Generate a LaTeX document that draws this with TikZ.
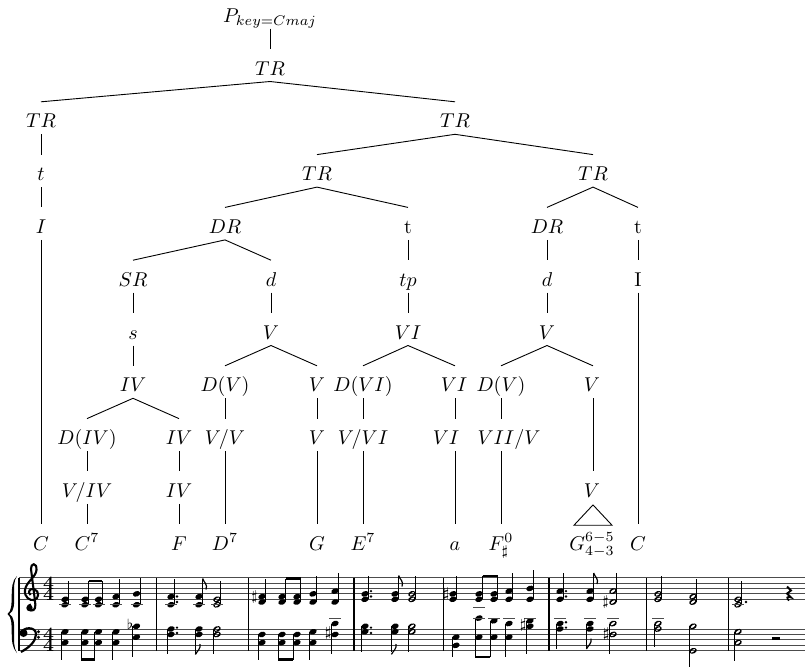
\documentclass[tikz,border=0pt]{standalone}
\usepackage{amssymb}
\begin{document}
\begin{tikzpicture}[x=0.5pt,y=-0.5pt,
  lab/.style={anchor=base,inner sep=0pt},
  edge/.style={line width=0.45pt},
  staffline/.style={line width=0.45pt,black!70},
  stem/.style={line width=0.55pt},
  bar/.style={line width=0.55pt},
  beam/.style={line width=1.3pt}]
\useasboundingbox (0,0) rectangle (805,666);
% ---------------- tree ----------------
\newcommand\ed[2]{\draw[edge] ([yshift=-3.25pt]#1.base) -- ([yshift=13pt]#2.base);}
\newcommand\edd[4]{\draw[edge] ([xshift=#2,yshift=-3.25pt]#1.base) -- ([xshift=#4,yshift=13pt]#3.base);}
\def\La{22.2}\def\Lb{75}\def\Lc{127.8}\def\Ld{180.6}\def\Le{233.4}\def\Lf{286.2}
\def\Lg{339}\def\Lh{391.8}\def\Li{444.6}\def\Lj{497.4}\def\Lk{550.2}
\node[lab] (P) at (270,\La) {$P_{key=Cmaj}$};
\node[lab] (T1) at (270,\Lb) {$TR$};
\node[lab] (T2a) at (41,\Lc) {$TR$};
\node[lab] (T2b) at (455,\Lc) {$TR$};
\node[lab] (t3a) at (41,\Ld) {$t$};
\node[lab] (T3b) at (317,\Ld) {$TR$};
\node[lab] (T3c) at (593,\Ld) {$TR$};
\node[lab] (I4a) at (41,\Le) {$I$};
\node[lab] (D4b) at (225,\Le) {$DR$};
\node[lab] (t4c) at (408,\Le) {t};
\node[lab] (D4d) at (547,\Le) {$DR$};
\node[lab] (t4e) at (638,\Le) {t};
\node[lab] (S5a) at (133,\Lf) {$SR$};
\node[lab] (d5b) at (271,\Lf) {$d$};
\node[lab] (tp5c) at (408,\Lf) {$tp$};
\node[lab] (d5d) at (547,\Lf) {$d$};
\node[lab] (I5e) at (638,\Lf) {I};
\node[lab] (s6a) at (133,\Lg) {$s$};
\node[lab] (V6b) at (271,\Lg) {$V$};
\node[lab] (VI6c) at (408,\Lg) {$VI$};
\node[lab] (V6d) at (547,\Lg) {$V$};
\node[lab] (IV7a) at (133,\Lh) {$IV$};
\node[lab] (DV7b) at (225,\Lh) {$D(V)$};
\node[lab] (V7c) at (317,\Lh) {$V$};
\node[lab] (DVI7d) at (363,\Lh) {$D(VI)$};
\node[lab] (VI7e) at (454,\Lh) {$VI$};
\node[lab] (DV7f) at (501,\Lh) {$D(V)$};
\node[lab] (V7g) at (592,\Lh) {$V$};
\node[lab] (DIV8a) at (87,\Li) {$D(IV)$};
\node[lab] (IV8b) at (179,\Li) {$IV$};
\node[lab] (VV8c) at (225,\Li) {$V/V$};
\node[lab] (V8d) at (317,\Li) {$V$};
\node[lab] (VVI8e) at (363,\Li) {$V/VI$};
\node[lab] (VI8f) at (446,\Li) {$VI$};
\node[lab] (VIIV8g) at (509,\Li) {$VII/V$};
\node[lab] (VIV9a) at (87,\Lj) {$V/IV$};
\node[lab] (IV9b) at (179,\Lj) {$IV$};
\node[lab] (V9c) at (592,\Lj) {$V$};
\node[lab] (Ca) at (41,\Lk) {$C$};
\node[lab] (Cb) at (87,\Lk) {$C^7$};
\node[lab] (Fc) at (179,\Lk) {$F$};
\node[lab] (Dd) at (225,\Lk) {$D^7$};
\node[lab] (Ge) at (317,\Lk) {$G$};
\node[lab] (Ef) at (363,\Lk) {$E^7$};
\node[lab] (ag) at (455,\Lk) {$a$};
\node[lab] (Fh) at (501,\Lk) {$F^0_\sharp$};
\node[lab] (Gi) at (592,\Lk) {$G^{6-5}_{4-3}$};
\node[lab] (Cj) at (638,\Lk) {$C$};
\ed{P}{T1}
\ed{T1}{T2a}\ed{T1}{T2b}
\ed{T2a}{t3a}\ed{t3a}{I4a}\ed{I4a}{Ca}
\ed{T2b}{T3b}\ed{T2b}{T3c}
\ed{T3b}{D4b}\ed{T3b}{t4c}
\ed{D4b}{S5a}\ed{D4b}{d5b}
\ed{S5a}{s6a}\ed{s6a}{IV7a}
\ed{IV7a}{DIV8a}\ed{IV7a}{IV8b}
\ed{DIV8a}{VIV9a}\ed{VIV9a}{Cb}
\ed{IV8b}{IV9b}\ed{IV9b}{Fc}
\ed{d5b}{V6b}\ed{V6b}{DV7b}\ed{V6b}{V7c}
\ed{DV7b}{VV8c}\ed{VV8c}{Dd}
\ed{V7c}{V8d}\ed{V8d}{Ge}
\ed{t4c}{tp5c}\ed{tp5c}{VI6c}
\ed{VI6c}{DVI7d}\edd{VI6c}{0pt}{VI7e}{0.5pt}
\ed{DVI7d}{VVI8e}\edd{VVI8e}{0pt}{Ef}{0pt}
\edd{VI7e}{0.5pt}{VI8f}{4.5pt}\edd{VI8f}{4.5pt}{ag}{0pt}
\ed{T3c}{D4d}\ed{T3c}{t4e}
\ed{D4d}{d5d}\ed{d5d}{V6d}
\ed{V6d}{DV7f}\edd{V6d}{0pt}{V7g}{0.5pt}
\edd{DV7f}{0pt}{VIIV8g}{-4pt}\edd{VIIV8g}{-4pt}{Fh}{0pt}
\edd{V7g}{0.5pt}{V9c}{0.5pt}
\draw[edge] ([xshift=0.5pt,yshift=-3.75pt]V9c.base) -- ([xshift=10pt,yshift=12.5pt]Gi.base) -- ([xshift=-9pt,yshift=12.5pt]Gi.base) -- cycle;
\ed{t4e}{I5e}\ed{I5e}{Cj}
% ---------------- score ----------------
\def\TT{577.5}\def\BT{629}
\newcommand\nf[2]{\fill (#1,#2) circle[x radius=1.9pt,y radius=1.35pt,rotate=20];}
\newcommand\no[2]{\fill[even odd rule] (#1,#2) circle[x radius=1.95pt,y radius=1.4pt,rotate=20] (#1,#2) circle[x radius=1.35pt,y radius=0.6pt,rotate=35];}
\newcommand\chord[6]{%
  \foreach \p in {#3}{\pgfmathsetmacro\yy{#2+\p*2.725}#4{#1}{\yy}}%
  \pgfmathsetmacro\ya{#2+min(#3)*2.725}\pgfmathsetmacro\yb{#2+max(#3)*2.725}%
  \ifnum#5=1 \draw[stem] (#1+3.6,\yb) -- (#1+3.6,\ya-#6);\fi
  \ifnum#5=-1 \draw[stem] (#1-3.6,\ya) -- (#1-3.6,\yb+#6);\fi}
\newcommand\ledger[2]{\draw[staffline] (#1-6,#2) -- (#1+6,#2);}
\newcommand\ndot[2]{\fill (#1,#2) circle (0.65pt);}
\newcommand\acc[3]{\node[inner sep=0pt] at (#1,#2) {\scriptsize$#3$};}
% staves
\foreach \i in {0,...,4}{\draw[staffline] (19,\TT+\i*5.45) -- (805,\TT+\i*5.45);
  \draw[staffline] (19,\BT+\i*5.45) -- (805,\BT+\i*5.45);}
\draw[bar] (19,\TT) -- (19,\BT+21.8);
\foreach \x in {156.5,248.3,354,443.3,549,646.7,728.3}{\draw[bar] (\x,\TT) -- (\x,\BT+21.8);}
% brace
\fill (17,576) .. controls (7,585) and (16,608) .. (7.5,614) .. controls (16,620) and (7,643) .. (17,653)
  .. controls (10,643) and (19,620) .. (9.5,614) .. controls (19,608) and (10,585) .. (17,576) -- cycle;
% clefs
\draw[line width=1.05pt] (31,604.5) .. controls (27,605) and (27,610) .. (31,610.5) .. controls (35,611) and (36,607) .. (35,601) -- (31,569) .. controls (30.5,563) and (37,562) .. (36.5,570) .. controls (36,577) and (26,582) .. (25,590) .. controls (24,597) and (30,601) .. (34,600) .. controls (39,599) and (40,591) .. (34,589) .. controls (30,588) and (27,592) .. (30.5,595);
\fill (29.5,608) circle (1.6pt);
\fill (23.5,633) circle (2pt);
\draw[line width=1.1pt] (22,633) .. controls (22,627) and (36,626) .. (36,634) .. controls (36,641) and (30,647) .. (21,652);
\fill (38.5,631.7) circle (0.8pt); \fill (38.5,637.2) circle (0.8pt);
% time signatures
\foreach \y in {\TT,\BT}{
  \node[inner sep=0pt] at (48.5,\y+5.45) {\fontsize{9.5}{9.5}\selectfont\bfseries 4};
  \node[inner sep=0pt] at (48.5,\y+16.35) {\fontsize{9.5}{9.5}\selectfont\bfseries 4};}
% --- treble
\chord{65}{\TT}{8,10}{\nf}{1}{18}\ledger{65}{\TT+27.25}
\chord{85}{\TT}{8,10}{\nf}{1}{18}\ledger{85}{\TT+27.25}
\chord{98.5}{\TT}{8,10}{\nf}{1}{18}\ledger{98.5}{\TT+27.25}
\draw[beam] (88.6,\TT+3.3) -- (102.1,\TT+3.3);
\chord{116}{\TT}{7,10}{\nf}{1}{18}\ledger{116}{\TT+27.25}
\chord{136.5}{\TT}{6,10}{\nf}{1}{16}\ledger{136.5}{\TT+27.25}
\chord{171}{\TT}{7,10}{\nf}{1}{18}\ledger{171}{\TT+27.25}\ndot{177}{\TT+19}\ndot{177}{\TT+24.5}
\chord{199}{\TT}{7,10}{\nf}{1}{18}\ledger{199}{\TT+27.25}
\draw[line width=0.6pt] (202.6,\TT+1) .. controls (204,\TT+5) and (208,\TT+7) .. (206,\TT+12);
\chord{217}{\TT}{8,10}{\no}{1}{18}\ledger{217}{\TT+27.25}
\chord{262}{\TT}{7,9}{\nf}{1}{18}\acc{254.5}{\TT+19}{\sharp}
\chord{282}{\TT}{7,9}{\nf}{1}{18}
\chord{297}{\TT}{7,9}{\nf}{1}{18}
\draw[beam] (285.6,\TT+1.2) -- (300.6,\TT+1.2);
\chord{313}{\TT}{6,9}{\nf}{1}{18}
\chord{335}{\TT}{5,9}{\nf}{1}{18}
\chord{365}{\TT}{6,8}{\nf}{1}{18}\ndot{371}{\TT+13.6}\ndot{371}{\TT+19}
\chord{395}{\TT}{6,8}{\nf}{1}{18}
\draw[line width=0.6pt] (398.6,\TT-2) .. controls (400,\TT+2) and (404,\TT+4) .. (402,\TT+9);
\chord{412}{\TT}{6,8}{\no}{1}{18}
\chord{453}{\TT}{6,8}{\nf}{1}{18}\acc{446}{\TT+16.4}{\sharp}
\chord{479}{\TT}{6,8}{\nf}{1}{18}
\chord{494}{\TT}{6,8}{\nf}{1}{18}
\draw[beam] (482.6,\TT-1.5) -- (497.6,\TT-1.5);
\chord{509}{\TT}{5,8}{\nf}{1}{18}
\chord{530}{\TT}{4,8}{\nf}{1}{18}
\chord{560}{\TT}{5,8}{\nf}{1}{18}\ndot{566}{\TT+13.6}\ndot{566}{\TT+19}
\chord{590}{\TT}{5,8}{\nf}{1}{18}
\draw[line width=0.6pt] (593.6,\TT-4.5) .. controls (595,\TT-0.5) and (599,\TT+1.5) .. (597,\TT+6.5);
\chord{613}{\TT}{5,9}{\no}{1}{18}\acc{605.5}{\TT+24.5}{\sharp}
\chord{658}{\TT}{6,8}{\no}{1}{18}
\chord{693}{\TT}{7,9}{\no}{1}{18}
\chord{738}{\TT}{8,10}{\no}{1}{18}\ledger{738}{\TT+27.25}\ndot{746}{\TT+24.5}
% quarter rest
\draw[line width=0.9pt] (787,\TT+9) -- (791,\TT+13) -- (787,\TT+16) -- (791,\TT+20) .. controls (787,\TT+18) and (786,\TT+21) .. (789,\TT+23);
% --- bass
\chord{65}{\BT}{1,5}{\nf}{-1}{17}
\chord{85}{\BT}{1,5}{\nf}{-1}{17}
\chord{98.5}{\BT}{1,5}{\nf}{-1}{17}
\draw[beam] (81.4,\BT+30.5) -- (94.9,\BT+30.5);
\chord{116}{\BT}{1,5}{\nf}{-1}{17}
\chord{136.5}{\BT}{-1,3}{\nf}{-1}{20}\acc{130}{\BT-5}{\flat}
\chord{171}{\BT}{0,2}{\nf}{-1}{20}\ndot{177}{\BT-1.4}\ndot{177}{\BT+4}
\chord{199}{\BT}{0,2}{\nf}{-1}{20}
\draw[line width=0.6pt] (195.4,\BT+25.5) .. controls (197,\BT+22) and (201,\BT+20) .. (200,\BT+15);
\chord{217}{\BT}{0,2}{\no}{-1}{20}
\chord{262}{\BT}{2,5}{\nf}{-1}{17}
\chord{282}{\BT}{2,5}{\nf}{-1}{17}
\chord{297}{\BT}{2,5}{\nf}{-1}{17}
\draw[beam] (278.4,\BT+30.5) -- (293.4,\BT+30.5);
\chord{313}{\BT}{1,5}{\nf}{-1}{17}
\chord{335}{\BT}{-2,2}{\nf}{-1}{20}\ledger{335}{\BT-10.9}\acc{328}{\BT+4}{\sharp}
\chord{365}{\BT}{-1,1}{\nf}{-1}{20}\ndot{371}{\BT-1.4}\ndot{371}{\BT+4}
\chord{395}{\BT}{-1,1}{\nf}{-1}{20}
\draw[line width=0.6pt] (391.4,\BT+25.4) .. controls (393,\BT+22) and (397,\BT+20) .. (396,\BT+15);
\chord{412}{\BT}{-1,1}{\no}{-1}{20}
\chord{456}{\BT}{3,6}{\nf}{-1}{12}
\chord{479}{\BT}{-4,3}{\nf}{-1}{20}\ledger{479}{\BT-10.9}\ledger{479}{\BT-21.8}
\chord{494}{\BT}{-3,3}{\nf}{-1}{20}\ledger{494}{\BT-10.9}
\draw[beam] (475.4,\BT+27.8) -- (490.4,\BT+27.8);
\chord{509}{\BT}{-2,3}{\nf}{-1}{20}\ledger{509}{\BT-10.9}
\chord{530}{\BT}{-3,-1}{\nf}{-1}{28}\ledger{530}{\BT-10.9}\acc{523}{\BT-4}{\sharp}
\chord{560}{\BT}{-2,0}{\nf}{-1}{20}\ledger{560}{\BT-10.9}\ndot{566}{\BT-6.8}\ndot{566}{\BT-1.4}
\chord{590}{\BT}{-2,0}{\nf}{-1}{20}\ledger{590}{\BT-10.9}
\draw[line width=0.6pt] (586.4,\BT+20) .. controls (588,\BT+16.6) and (592,\BT+14.6) .. (591,\BT+9.6);
\chord{613}{\BT}{-2,2}{\no}{-1}{20}\ledger{613}{\BT-10.9}\acc{606}{\BT+5.45}{\sharp}
\chord{658}{\BT}{-2,0}{\no}{-1}{18}\ledger{658}{\BT-10.9}
\chord{693}{\BT}{-1,8}{\no}{-1}{16}
\chord{738}{\BT}{1,5}{\no}{-1}{18}
\fill (772,\BT+8.2) rectangle (780,\BT+10.9);
\end{tikzpicture}
\end{document}
